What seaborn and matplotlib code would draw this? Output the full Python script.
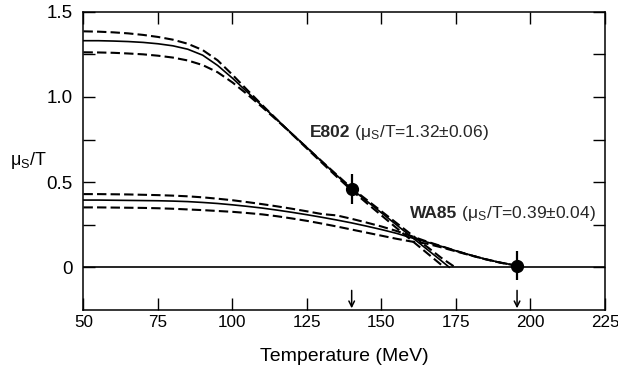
import matplotlib
matplotlib.use("Agg")
import matplotlib.pyplot as plt
import seaborn as sns
from matplotlib.ticker import FixedLocator, FuncFormatter

# ---- model curves: strangeness chemical potential over temperature ----
# E802 fit (mu_s/T = 1.32 +/- 0.06 at low T)
t_e802_mid = [50, 55, 60, 65, 70, 75, 80, 85, 90, 95, 100, 105, 110, 115, 120,
              125, 130, 135, 140, 145, 150, 155, 160, 165, 170, 172.8]
mu_e802_mid = [1.330, 1.330, 1.328, 1.325, 1.320, 1.312, 1.300, 1.280, 1.245, 1.185,
               1.110, 1.028, 0.947, 0.866, 0.784, 0.703, 0.621, 0.540, 0.460, 0.390,
               0.320, 0.250, 0.180, 0.110, 0.040, 0.0]

t_e802_hi = [50, 55, 60, 65, 70, 75, 80, 85, 90, 95, 100, 105, 110, 115, 120,
             125, 130, 135, 140, 145, 150, 155, 160, 165, 170, 171.1]
mu_e802_hi = [1.385, 1.383, 1.379, 1.373, 1.364, 1.352, 1.336, 1.312, 1.275, 1.215,
              1.130, 1.040, 0.952, 0.866, 0.781, 0.697, 0.614, 0.532, 0.452, 0.378,
              0.305, 0.232, 0.160, 0.088, 0.016, 0.0]

t_e802_lo = [50, 55, 60, 65, 70, 75, 80, 85, 90, 95, 100, 105, 110, 115, 120,
             125, 130, 135, 140, 145, 150, 155, 160, 165, 170, 174.8]
mu_e802_lo = [1.262, 1.261, 1.259, 1.255, 1.250, 1.242, 1.231, 1.214, 1.187, 1.145,
              1.085, 1.015, 0.940, 0.862, 0.782, 0.702, 0.622, 0.543, 0.465, 0.397,
              0.329, 0.261, 0.193, 0.125, 0.057, 0.0]

# WA85 fit (mu_s/T = 0.39 +/- 0.04 at low T)
t_wa85 = [50, 55, 60, 65, 70, 75, 80, 85, 90, 95, 100, 105, 110, 115, 120, 125,
          130, 135, 140, 145, 150, 155, 160, 165, 170, 175, 180, 185, 190, 195.5]
mu_wa85_mid = [0.395, 0.395, 0.394, 0.393, 0.392, 0.391, 0.389, 0.386, 0.381, 0.375,
               0.367, 0.358, 0.348, 0.336, 0.323, 0.309, 0.294, 0.278, 0.261, 0.242,
               0.222, 0.200, 0.174, 0.150, 0.124, 0.097, 0.072, 0.048, 0.028, 0.010]
mu_wa85_hi = [0.430, 0.430, 0.429, 0.428, 0.426, 0.424, 0.421, 0.417, 0.411, 0.403,
              0.394, 0.383, 0.371, 0.358, 0.344, 0.329, 0.313, 0.305, 0.285, 0.263,
              0.240, 0.214, 0.184, 0.153, 0.125, 0.097, 0.071, 0.047, 0.027, 0.010]
mu_wa85_lo = [0.352, 0.352, 0.351, 0.350, 0.349, 0.347, 0.344, 0.340, 0.336, 0.331,
              0.326, 0.319, 0.311, 0.300, 0.287, 0.273, 0.257, 0.240, 0.222, 0.204,
              0.186, 0.168, 0.152, 0.140, 0.118, 0.094, 0.070, 0.048, 0.028, 0.010]

# freeze-out points with their uncertainties
point_t = [140, 195.5]
point_mu = [0.46, 0.01]
point_err = [0.09, 0.085]

x_ticks = [50, 75, 100, 125, 150, 175, 200, 225]
y_ticks = [0, 0.25, 0.5, 0.75, 1.0, 1.25, 1.5]
y_tick_text = {0: "0", 0.5: "0.5", 1.0: "1.0", 1.5: "1.5"}

sns.set_theme(style="ticks")
plt.rcParams["font.family"] = ["Liberation Sans", "DejaVu Sans"]
plt.rcParams["mathtext.default"] = "regular"

fig = plt.figure(figsize=(6.18, 3.71), dpi=100)
ax = fig.add_axes([0.1351, 0.1644, 0.8438, 0.8040])

dash = (0, (4.5, 2.0))
solid_lw = 1.2
dash_lw = 1.5

for t, mu in [(t_e802_mid, mu_e802_mid), (t_wa85, mu_wa85_mid)]:
    sns.lineplot(x=t, y=mu, ax=ax, color="black", lw=solid_lw,
                 estimator=None, sort=False)
for t, mu in [(t_e802_hi, mu_e802_hi), (t_e802_lo, mu_e802_lo),
              (t_wa85, mu_wa85_hi), (t_wa85, mu_wa85_lo)]:
    sns.lineplot(x=t, y=mu, ax=ax, color="black", lw=dash_lw,
                 linestyle=dash, estimator=None, sort=False)

ax.axhline(0, color="black", lw=1.2, zorder=1)

ax.errorbar(point_t, point_mu, yerr=point_err, fmt="o", color="black",
            ms=8.5, elinewidth=1.6, capsize=0, zorder=5)

for t in point_t:
    ax.annotate("", xy=(t, -0.24), xytext=(t, -0.135),
                arrowprops=dict(arrowstyle="->", color="black", lw=1.1,
                                mutation_scale=10, shrinkA=0, shrinkB=0))

# labels for the two data sets
t1 = ax.text(126.0, 0.766, "E802", fontsize=12.5, fontweight="bold",
             ha="left", va="baseline")
ax.annotate(r" (μ$_{S}$/T=1.32±0.06)", xy=(1, 0.766), xycoords=(t1, "data"),
            fontsize=12.5, ha="left", va="baseline")
t2 = ax.text(159.6, 0.287, "WA85", fontsize=12.5, fontweight="bold",
             ha="left", va="baseline")
ax.annotate(r" (μ$_{S}$/T=0.39±0.04)", xy=(1, 0.287), xycoords=(t2, "data"),
            fontsize=12.5, ha="left", va="baseline")

ax.set_xlim(50, 225)
ax.set_ylim(-0.25, 1.5)
ax.xaxis.set_major_locator(FixedLocator(x_ticks))
ax.yaxis.set_major_locator(FixedLocator(y_ticks))
ax.yaxis.set_major_formatter(FuncFormatter(lambda v, p: y_tick_text.get(round(v, 2), "")))

ax.tick_params(axis="both", direction="in", length=8.6, width=1.0,
               top=True, right=True, color="black", labelcolor="black")
ax.tick_params(axis="x", pad=3.3, labelsize=12.3)
ax.tick_params(axis="y", pad=8.0, labelsize=13.5)

for s in ax.spines.values():
    s.set_linewidth(1.1)
    s.set_color("black")

ax.set_xlabel("Temperature (MeV)", fontsize=14, color="black", va="top")
ax.xaxis.set_label_coords(0.5, -0.128)
ax.set_ylabel(r"μ$_{S}$/T", fontsize=13, rotation=0, ha="left", va="baseline",
              color="black")
ax.yaxis.set_label_coords(-0.141, 0.486)

fig.savefig("out.png", dpi=100, facecolor="white")
